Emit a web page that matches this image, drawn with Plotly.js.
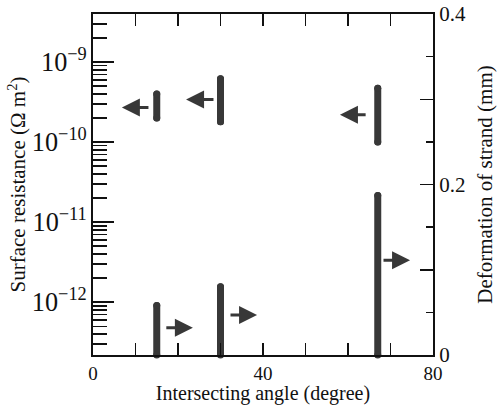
<!DOCTYPE html>
<html>
<head>
<meta charset="utf-8">
<script src="https://cdn.plot.ly/plotly-3.0.1.min.js"></script>
<style>
html,body{margin:0;padding:0;background:#fff;}
#chart{width:499px;height:405px;}
</style>
</head>
<body>
<div id="chart"></div>
<script>
// Data
const angles = [15, 30, 67];                       // intersecting angle (degree)
const resLow = [2.0e-10, 1.8e-10, 1.0e-10];        // surface resistance, lower end (Ω m²)
const resHigh = [4.0e-10, 6.2e-10, 4.7e-10];       // surface resistance, upper end (Ω m²)
const deformLow = [0, 0, 0];                       // deformation of strand, lower end (mm)
const deformHigh = [0.058, 0.080, 0.187];          // deformation of strand, upper end (mm)

// Arrows indicating which axis each group belongs to
const leftArrowTailX = [13.4, 28.7, 64.5];
const leftArrowTipX = [6.8, 21.9, 58.1];
const leftArrowY = [2.7e-10, 3.4e-10, 2.2e-10];
const rightArrowTailX = [16.9, 32.0, 68.0];
const rightArrowTipX = [23.5, 38.6, 74.6];
const rightArrowY = [0.032, 0.047, 0.111];

const xTickVals = [0, 40, 80];
const xTickText = ['0', '40', '80'];
const y2TickVals = [0, 0.1, 0.2, 0.3, 0.4];
const y2TickText = ['0', '', '0.2', '', '0.4'];

const barColor = '#383838';
const ink = '#111';
const fontFam = '"Liberation Serif", "Times New Roman", serif';
const FS = 21;

function segs(xs, lo, hi) {
  const X = [], Y = [];
  xs.forEach((x, i) => { X.push(x, x, null); Y.push(lo[i], hi[i], null); });
  return {X, Y};
}
const s1 = segs(angles, resLow, resHigh);
const s2 = segs(angles, deformLow, deformHigh);

const barStyle = {
  type: 'scatter', mode: 'lines+markers', connectgaps: false, cliponaxis: false,
  line: {color: barColor, width: 7},
  marker: {color: barColor, size: 7, symbol: 'circle', line: {width: 0}},
  hoverinfo: 'skip', showlegend: false
};
const traces = [
  Object.assign({x: s1.X, y: s1.Y, yaxis: 'y'}, barStyle),
  Object.assign({x: s2.X, y: s2.Y, yaxis: 'y2'}, barStyle)
];

const annotations = [];
leftArrowTipX.forEach((tx, i) => {
  annotations.push({x: tx, y: Math.log10(leftArrowY[i]), ax: leftArrowTailX[i], ay: Math.log10(leftArrowY[i]),
    xref: 'x', yref: 'y', axref: 'x', ayref: 'y', text: '', showarrow: true,
    arrowhead: 2, arrowsize: 1.2, arrowwidth: 3, arrowcolor: barColor, standoff: 0});
});
rightArrowTipX.forEach((tx, i) => {
  annotations.push({x: tx, y: rightArrowY[i], ax: rightArrowTailX[i], ay: rightArrowY[i],
    xref: 'x', yref: 'y2', axref: 'x', ayref: 'y2', text: '', showarrow: true,
    arrowhead: 2, arrowsize: 1.2, arrowwidth: 3, arrowcolor: barColor, standoff: 0});
});

const layout = {
  width: 499, height: 405,
  margin: {l: 93, r: 66, t: 14, b: 50},
  paper_bgcolor: '#fff', plot_bgcolor: '#fff',
  font: {family: fontFam, color: ink, size: FS},
  showlegend: false,
  xaxis: {
    range: [0, 80], tickmode: 'array', tickvals: xTickVals, ticktext: xTickText,
    ticks: 'inside', ticklen: 12, tickwidth: 1.5, tickcolor: ink,
    minor: {dtick: 10, tick0: 0, ticks: 'inside', ticklen: 6, tickwidth: 1.5, tickcolor: ink, showgrid: false},
    showline: true, linecolor: ink, linewidth: 2, mirror: 'allticks',
    showgrid: false, zeroline: false, ticklabelstandoff: 0,
    tickfont: {family: fontFam, size: 19, color: ink},
    title: {text: 'Intersecting angle (degree)', font: {family: fontFam, size: 20, color: ink}, standoff: 5}
  },
  yaxis: {
    type: 'log', range: [-12.66, -8.40], dtick: 1,
    exponentformat: 'power',
    ticks: 'inside', ticklen: 21, tickwidth: 1.5, tickcolor: ink,
    minor: {dtick: 'D1', ticks: 'inside', ticklen: 14, tickwidth: 1.5, tickcolor: ink, showgrid: false},
    showline: true, linecolor: ink, linewidth: 2,
    showgrid: false, zeroline: false,
    tickfont: {family: fontFam, size: FS, color: ink},
    title: {text: 'Surface resistance (Ω m<sup>2</sup>)', font: {family: fontFam, size: FS, color: ink}, standoff: 0}
  },
  yaxis2: {
    overlaying: 'y', side: 'right', range: [0, 0.4],
    tickmode: 'array', tickvals: y2TickVals, ticktext: y2TickText,
    ticks: 'inside', ticklen: 13, tickwidth: 1.5, tickcolor: ink,
    minor: {dtick: 0.05, tick0: 0, ticks: 'inside', ticklen: 7, tickwidth: 1.5, tickcolor: ink, showgrid: false},
    showline: true, linecolor: ink, linewidth: 2,
    showgrid: false, zeroline: false,
    tickfont: {family: fontFam, size: FS, color: ink},
    title: {text: 'Deformation of strand (mm)', font: {family: fontFam, size: FS, color: ink}, standoff: 12}
  },
  annotations: annotations
};

Plotly.newPlot('chart', traces, layout, {staticPlot: true, displayModeBar: false}).then(gd => {
  gd.querySelectorAll('.scatterlayer path.js-line').forEach(p => p.style.strokeLinecap = 'round');
});
</script>
</body>
</html>
